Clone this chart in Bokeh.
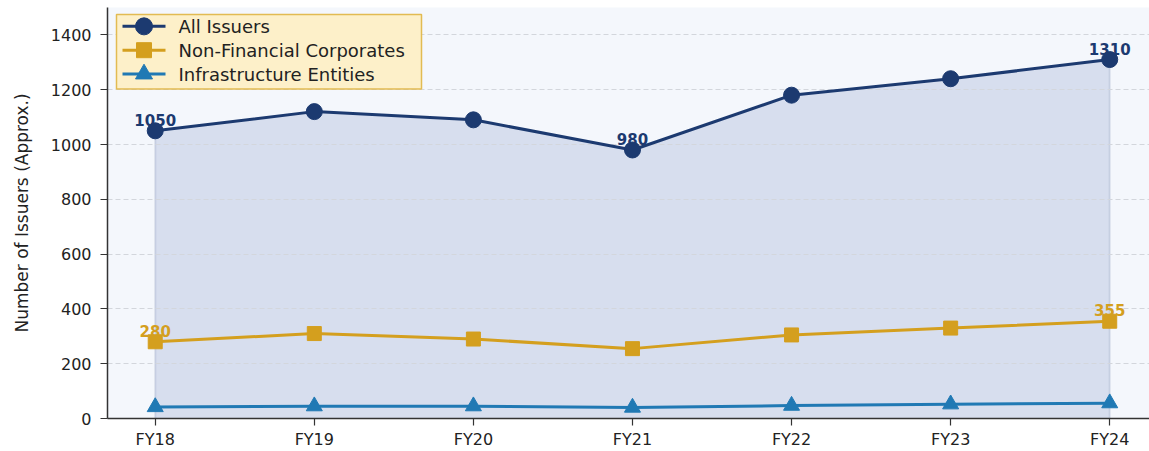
from bokeh.plotting import figure
from bokeh.models import Range1d, FixedTicker, ColumnDataSource
from bokeh.core.properties import value
from bokeh.embed import file_html
from bokeh.resources import INLINE

# Issuer counts by fiscal year
years = ["FY18", "FY19", "FY20", "FY21", "FY22", "FY23", "FY24"]
all_issuers = [1050, 1120, 1090, 980, 1180, 1240, 1310]
non_financial = [280, 310, 290, 255, 305, 330, 355]
infrastructure = [42, 45, 45, 40, 47, 52, 56]
y_ticks = [0, 200, 400, 600, 800, 1000, 1200, 1400]

series_names = ["All Issuers", "Non-Financial Corporates", "Infrastructure Entities"]

NAVY = "#1c3a70"
GOLD = "#d49f1e"
BLUE = "#2079b4"
FONT = "DejaVu Sans"

xs = list(range(len(years)))

FRAME_W, FRAME_H = 1042, 414
p = figure(width=1149, height=451, output_backend="svg", toolbar_location=None,
           x_range=Range1d(-0.3, 6.25), y_range=Range1d(0, 1500),
           min_border_left=107, min_border_right=0, min_border_top=7, min_border_bottom=30)

p.background_fill_color = "#f4f7fc"
p.border_fill_color = "white"
p.outline_line_color = None

# shaded area under the total series (kept beneath the grid)
p.varea(x=xs, y1=[0] * len(xs), y2=all_issuers, fill_color="#2a4a9a", fill_alpha=0.14,
        level="image")
p.segment(x0=[xs[0], xs[-1]], y0=[0, 0], x1=[xs[0], xs[-1]],
          y1=[all_issuers[0], all_issuers[-1]], line_color=NAVY, line_alpha=0.12, line_width=2,
          level="image")

colors = [NAVY, GOLD, BLUE]
markers = ["circle", "square", "triangle"]
sizes = [16, 14, 16]
for vals, col, mk, sz in zip([all_issuers, non_financial, infrastructure], colors, markers, sizes):
    p.line(xs, vals, line_color=col, line_width=3)
    p.scatter(xs, vals, marker=mk, size=sz, fill_color=col, line_color=col)

# value annotations on selected points
lab_idx_all = [0, 3, 6]
lab_idx_nfc = [0, 6]
src_all = ColumnDataSource(dict(x=[xs[i] for i in lab_idx_all],
                                y=[all_issuers[i] for i in lab_idx_all],
                                t=[str(all_issuers[i]) for i in lab_idx_all]))
src_nfc = ColumnDataSource(dict(x=[xs[i] for i in lab_idx_nfc],
                                y=[non_financial[i] for i in lab_idx_nfc],
                                t=[str(non_financial[i]) for i in lab_idx_nfc]))
for src, col in ((src_all, NAVY), (src_nfc, GOLD)):
    p.text(x="x", y="y", text="t", source=src, text_color=col, text_font=value(FONT),
           text_font_style="bold", text_font_size="15px", text_align="center",
           text_baseline="alphabetic", y_offset=-11)

# axes
p.xaxis.ticker = FixedTicker(ticks=xs)
p.xaxis.major_label_overrides = {i: y for i, y in enumerate(years)}
p.yaxis.ticker = FixedTicker(ticks=y_ticks)
p.yaxis.axis_label = "Number of Issuers (Approx.)"
for ax in (p.xaxis, p.yaxis):
    ax.axis_line_color = "#333333"
    ax.axis_line_width = 1.5
    ax.major_tick_line_color = "#333333"
    ax.major_tick_line_width = 1.2
    ax.major_tick_out = 7
    ax.major_tick_in = 0
    ax.minor_tick_line_color = None
    ax.major_label_text_font = FONT
    ax.major_label_text_font_size = "16px"
    ax.major_label_text_color = "#222222"
p.yaxis.major_label_standoff = 9
p.xaxis.major_label_standoff = 4
p.yaxis.axis_label_text_font = FONT
p.yaxis.axis_label_text_font_size = "17px"
p.yaxis.axis_label_text_font_style = "normal"
p.yaxis.axis_label_text_color = "#222222"
p.yaxis.axis_label_standoff = 16

p.xgrid.grid_line_color = None
p.ygrid.grid_line_color = "#d3d6dc"
p.ygrid.grid_line_dash = "5 3"
p.ygrid.grid_line_width = 1

# legend panel, laid out in pixel coordinates of the plot frame (origin top-left)
p.extra_x_ranges["px"] = Range1d(0, FRAME_W)
p.extra_y_ranges["px"] = Range1d(FRAME_H, 0)
row_y = [19, 43, 67]
kw = dict(x_range_name="px", y_range_name="px", level="overlay")
p.quad(left=[9], right=[314], top=[7], bottom=[82], fill_color="#fdf0c9",
       line_color="#e2bb52", line_width=1.5, **kw)
p.segment(x0=[15] * 3, x1=[58] * 3, y0=row_y, y1=row_y, line_color=colors, line_width=3, **kw)
p.scatter(x=[36.5] * 3, y=row_y, marker=markers, size=[17, 15, 17], fill_color=colors,
          line_color=colors, **kw)
p.text(x=[71] * 3, y=row_y, text=series_names, text_font=value(FONT), text_font_size="18px",
       text_color="#222222", text_baseline="middle", text_align="left", **kw)

open("out.html", "w").write(file_html(p, INLINE))
